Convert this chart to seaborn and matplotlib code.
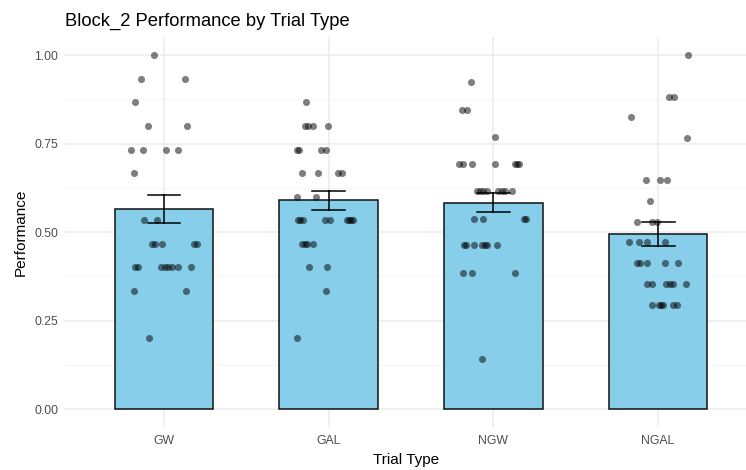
"""Block_2 performance by trial type: bar (mean ± SE) with jittered points."""
import matplotlib
matplotlib.use('Agg')
import matplotlib.pyplot as plt
import seaborn as sns
import numpy as np
import pandas as pd
from matplotlib.ticker import MultipleLocator

trial_types = ['GW', 'GAL', 'NGW', 'NGAL']

# Performance values (one per participant)
gw_perf = [1.0, 0.933, 0.933, 0.867, 0.8, 0.8, 0.733, 0.733, 0.733, 0.733, 0.667,
           0.533, 0.533, 0.467, 0.467, 0.467, 0.467, 0.467,
           0.4, 0.4, 0.4, 0.4, 0.4, 0.4, 0.4, 0.4, 0.333, 0.333, 0.2]
gw_jitter = [-0.061, -0.140, 0.128, -0.176, -0.097, 0.140, -0.200, -0.128, 0.012, 0.085, -0.182,
             -0.121, -0.043, -0.073, -0.055, -0.012, 0.182, 0.200,
             -0.176, -0.158, -0.018, 0.006, 0.024, 0.049, 0.085, 0.164, -0.182, 0.134, -0.091]

gal_perf = [0.867, 0.8, 0.8, 0.8, 0.8, 0.733, 0.733, 0.733, 0.733,
            0.667, 0.667, 0.667, 0.667, 0.6, 0.6,
            0.533, 0.533, 0.533, 0.533, 0.533, 0.533, 0.533, 0.533, 0.533,
            0.467, 0.467, 0.467, 0.467, 0.4, 0.4, 0.333, 0.2]
gal_jitter = [-0.137, -0.143, -0.124, -0.094, -0.003, -0.191, -0.180, -0.046, -0.015,
              -0.161, -0.064, 0.058, 0.082, -0.191, -0.076,
              -0.185, -0.173, -0.155, -0.021, 0.009, 0.112, 0.124, 0.137, 0.149,
              -0.161, -0.143, -0.131, -0.094, -0.118, -0.009, -0.015, -0.191]

ngw_perf = [0.923, 0.846, 0.846, 0.769,
            0.692, 0.692, 0.692, 0.692, 0.692, 0.692, 0.692,
            0.615, 0.615, 0.615, 0.615, 0.615, 0.615, 0.615, 0.615,
            0.538, 0.538, 0.538, 0.538,
            0.462, 0.462, 0.462, 0.462, 0.462, 0.462, 0.462,
            0.385, 0.385, 0.385, 0.14]
ngw_jitter = [-0.134, -0.188, -0.158, 0.012,
              -0.206, -0.182, -0.128, 0.012, 0.134, 0.146, 0.158,
              -0.097, -0.079, -0.061, -0.036, 0.030, 0.055, 0.073, 0.115,
              -0.115, -0.061, 0.188, 0.200,
              -0.176, -0.164, -0.115, -0.067, -0.049, -0.036, 0.024,
              -0.182, -0.128, 0.134, -0.067]

ngal_perf = [1.0, 0.882, 0.882, 0.824, 0.765, 0.647, 0.647, 0.647, 0.588,
             0.529, 0.529, 0.529, 0.471, 0.471, 0.471, 0.471,
             0.412, 0.412, 0.412, 0.412, 0.412,
             0.353, 0.353, 0.353, 0.353, 0.353, 0.353,
             0.294, 0.294, 0.294, 0.294, 0.294, 0.294]
ngal_jitter = [0.182, 0.067, 0.097, -0.164, 0.176, -0.073, 0.012, 0.055, -0.049,
               -0.128, -0.036, -0.006, -0.176, -0.115, -0.067, 0.043,
               -0.128, -0.109, -0.067, 0.043, 0.121,
               -0.067, -0.036, 0.049, 0.073, 0.091, 0.170,
               -0.036, 0.006, 0.018, 0.030, 0.091, 0.115]

groups = [(gw_perf, gw_jitter), (gal_perf, gal_jitter), (ngw_perf, ngw_jitter), (ngal_perf, ngal_jitter)]
frames = []
for code, (perf, jit) in enumerate(groups):
    frames.append(pd.DataFrame({'code': code, 'Performance': perf, 'jitter': jit}))
df = pd.concat(frames, ignore_index=True)
df['pos'] = df['code'] + df['jitter']

plt.rcParams['font.family'] = ['Liberation Sans', 'DejaVu Sans']

fig = plt.figure(figsize=(7.46, 4.70), dpi=100)
ax = fig.add_axes([0.0874, 0.0921, 0.9126, 0.8285])

sns.barplot(data=df, x='code', y='Performance', errorbar='se', capsize=0.2, width=0.6,
            color='#87CEEB', saturation=1, edgecolor='#111111', linewidth=1.1,
            err_kws={'color': 'black', 'linewidth': 1.1}, ax=ax, zorder=2)
sns.scatterplot(x=df['pos'], y=df['Performance'], color='black', alpha=0.5, s=26,
                linewidth=0, ax=ax, zorder=4, legend=False)

ax.set_xlim(-0.6, 3.534)
ax.set_ylim(-0.05, 1.05)
ax.set_xticks(range(len(trial_types)))
ax.set_xticklabels(trial_types)
ax.yaxis.set_major_locator(MultipleLocator(0.25))
ax.yaxis.set_minor_locator(MultipleLocator(0.125))
ax.yaxis.set_major_formatter(matplotlib.ticker.FormatStrFormatter('%.2f'))

ax.set_axisbelow(True)
ax.grid(True, which='major', color='#EBEBEB', linewidth=1.1)
ax.grid(True, which='minor', axis='y', color='#F2F2F2', linewidth=0.6)
for s in ax.spines.values():
    s.set_visible(False)
ax.tick_params(which='both', length=0, labelsize=8.8, labelcolor='#4D4D4D')
ax.tick_params(axis='y', pad=5)
ax.tick_params(axis='x', pad=6)

ax.set_xlabel('Trial Type', fontsize=11, labelpad=4.5)
ax.set_ylabel('Performance', fontsize=11, labelpad=5)
ax.set_title('Block_2 Performance by Trial Type', loc='left', fontsize=13.2, pad=8)

fig.savefig('out.png', dpi=100)
plt.close(fig)
